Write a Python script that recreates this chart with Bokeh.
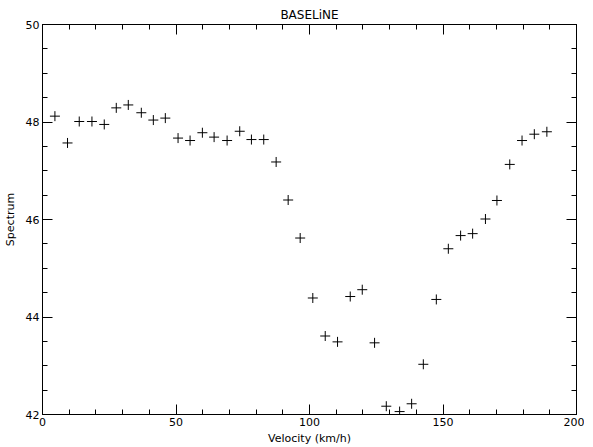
from bokeh.plotting import figure
from bokeh.models import Range1d, LinearAxis, SingleIntervalTicker, FixedTicker, ColumnDataSource
from bokeh.embed import file_html
from bokeh.resources import INLINE

velocity = [4.65, 9.37, 13.76, 18.52, 23.13, 27.63, 32.13, 37.01, 41.51, 46.0,
            50.77, 55.27, 59.88, 64.27, 69.14, 73.87, 78.25, 82.86, 87.51, 92.01,
            96.51, 101.24, 105.89, 110.5, 115.26, 119.76, 124.37, 128.76, 133.75, 138.25,
            142.63, 147.5, 152.0, 156.6, 161.1, 165.9, 170.2, 175.0, 179.6, 184.2, 188.9]
spectrum = [48.12, 47.57, 48.01, 48.01, 47.95, 48.29, 48.35, 48.19, 48.04, 48.08,
            47.67, 47.62, 47.78, 47.69, 47.62, 47.81, 47.64, 47.64, 47.18, 46.40,
            45.62, 44.39, 43.61, 43.49, 44.42, 44.56, 43.47, 42.17, 42.06, 42.22,
            43.03, 44.36, 45.40, 45.67, 45.71, 46.01, 46.39, 47.13, 47.62, 47.75, 47.80]

x_major = [0, 50, 100, 150, 200]
x_minor = [10, 20, 30, 40, 60, 70, 80, 90, 110, 120, 130, 140, 160, 170, 180, 190]
y_major = [42, 44, 46, 48, 50]
y_minor = [42.5, 43, 43.5, 44.5, 45, 45.5, 46.5, 47, 47.5, 48.5, 49, 49.5]

title_text = "BASELiNE"
x_label = "Velocity (km/h)"
y_label = "Spectrum"

FONT = "DejaVu Sans"

p = figure(frame_width=534, frame_height=390, output_backend="svg", toolbar_location=None,
           x_range=Range1d(0, 200), y_range=Range1d(42, 50),
           x_axis_location=None, y_axis_location=None,
           min_border_left=35, min_border_right=8, min_border_top=24, min_border_bottom=0)
p.grid.visible = False
p.outline_line_color = "black"
p.outline_line_width = 1
p.background_fill_color = "white"
p.border_fill_color = "white"

p.title.text = title_text
p.title.align = "center"
p.title.text_font = FONT
p.title.text_font_style = "normal"
p.title.text_font_size = "12px"
p.title.text_color = "black"
p.title.offset = 0
p.title.standoff = 6

def style_axis(ax, major_in, minor_in):
    ax.axis_line_color = "black"
    ax.major_tick_line_color = "black"
    ax.minor_tick_line_color = "black"
    ax.major_tick_in = major_in
    ax.major_tick_out = 0
    ax.minor_tick_in = minor_in
    ax.minor_tick_out = 0
    ax.major_label_text_font = FONT
    ax.major_label_text_font_size = "11px"
    ax.major_label_text_color = "black"
    ax.major_label_standoff = 3
    ax.axis_label_text_font = FONT
    ax.axis_label_text_font_size = "11px"
    ax.axis_label_text_font_style = "normal"
    ax.axis_label_text_color = "black"

# labelled axes
bottom = LinearAxis(axis_label=x_label,
                    ticker=SingleIntervalTicker(interval=50, num_minor_ticks=5))
style_axis(bottom, 10, 5)
bottom.major_label_standoff = 3
bottom.axis_label_standoff = 3
p.add_layout(bottom, "below")

left = LinearAxis(axis_label=y_label,
                  ticker=SingleIntervalTicker(interval=2, num_minor_ticks=4))
style_axis(left, 10, 5)
left.axis_label_standoff = 6
p.add_layout(left, "left")

# unlabelled mirror ticks: only "minor" ticks, so no labels are drawn
top_major = LinearAxis(ticker=FixedTicker(ticks=[], minor_ticks=x_major))
style_axis(top_major, 10, 10)
p.add_layout(top_major, "above")
top_minor = LinearAxis(ticker=FixedTicker(ticks=[], minor_ticks=x_minor))
style_axis(top_minor, 5, 5)
top_minor.axis_line_color = None
p.add_layout(top_minor, "above")

right_major = LinearAxis(ticker=FixedTicker(ticks=[], minor_ticks=y_major))
style_axis(right_major, 10, 10)
p.add_layout(right_major, "right")
right_minor = LinearAxis(ticker=FixedTicker(ticks=[], minor_ticks=y_minor))
style_axis(right_minor, 5, 5)
right_minor.axis_line_color = None
p.add_layout(right_minor, "right")

src = ColumnDataSource(dict(x=velocity, y=spectrum))
p.scatter("x", "y", source=src, marker="cross", size=10, line_color="black", line_width=1)

open("out.html", "w").write(file_html(p, INLINE))
